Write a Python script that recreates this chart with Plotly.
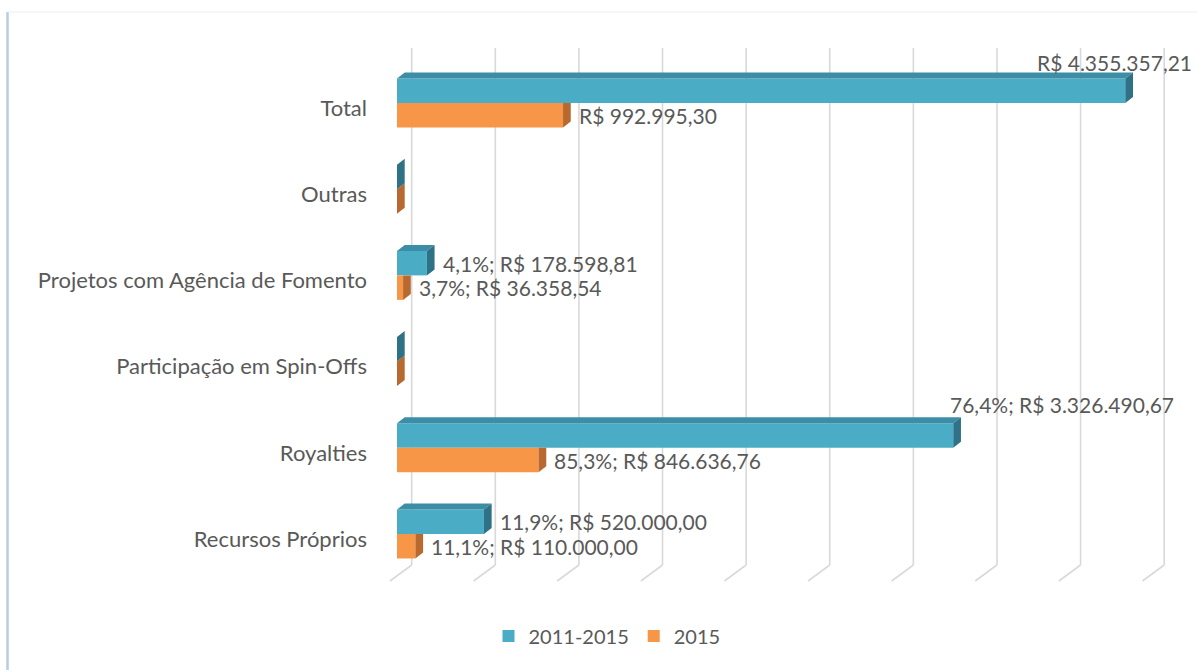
import plotly.graph_objects as go

# ---------------- data ----------------
categories = ["Recursos Próprios", "Royalties", "Participação em Spin-Offs",
              "Projetos com Agência de Fomento", "Outras", "Total"]
series_names = ["2011-2015", "2015"]
values_2011_2015 = [520000.00, 3326490.67, 0.0, 178598.81, 0.0, 4355357.21]
values_2015 = [110000.00, 846636.76, 0.0, 36358.54, 0.0, 992995.30]
grid_ticks = [0, 500000, 1000000, 1500000, 2000000, 2500000,
              3000000, 3500000, 4000000, 4500000]

# ---------------- style / geometry ----------------
W, H = 1197, 670
ML, MR, MT, MB = 380, 20, 38, 76
PX_PER_UNIT = 1.6722e-4          # pixels per R$
PX_PER_CAT = 86.2                # pixels per category
plot_w = W - ML - MR
plot_h = H - MT - MB
x0 = -17 / PX_PER_UNIT
xr = [x0, x0 + plot_w / PX_PER_UNIT]
yr = [-(594 - 534) / PX_PER_CAT, (534 - MT) / PX_PER_CAT]

TEAL, TEAL_TOP, TEAL_SIDE = "#4bacc6", "#3c8ea6", "#2f7286"
ORANGE, ORANGE_SIDE = "#f79646", "#b8692f"
TXT = "#595959"
FONT = "Lato"
BW = 0.284                        # bar thickness (category units)
DX = 7.7 / PX_PER_UNIT            # depth offset x (data units)
DY = 6.0 / PX_PER_CAT             # depth offset y


def brl(v):
    s = f"{v:,.2f}"
    return "R$ " + s.replace(",", "#").replace(".", ",").replace("#", ".")


def pct(v, tot):
    return f"{100 * v / tot:.1f}".replace(".", ",") + "%"


n = len(categories)
ypos = list(range(n))
tot_a = values_2011_2015[-1]
tot_b = values_2015[-1]

fig = go.Figure()
fig.add_trace(go.Bar(name=series_names[0], y=ypos, x=values_2011_2015, orientation="h",
                     offset=0, width=BW, marker=dict(color=TEAL, line=dict(width=0)),
                     hoverinfo="skip"))
fig.add_trace(go.Bar(name=series_names[1], y=ypos, x=values_2015, orientation="h",
                     offset=-BW, width=BW, marker=dict(color=ORANGE, line=dict(width=0)),
                     hoverinfo="skip"))

# 3D faces derived from the values
osx, osy = [], []
for i, (va, vb) in enumerate(zip(values_2011_2015, values_2015)):
    top_r = i + DY if va <= vb else i
    osx += [vb, vb, vb + DX, vb + DX, None]
    osy += [i - BW, i, top_r, i - BW + DY, None]
fig.add_trace(go.Scatter(x=osx, y=osy, fill="toself", fillcolor=ORANGE_SIDE, mode="lines",
                         line=dict(width=0), showlegend=False, hoverinfo="skip"))
ttx, tty, tsx, tsy = [], [], [], []
for i, va in enumerate(values_2011_2015):
    if va > 0:
        ttx += [0, va, va + DX, DX, None]
        tty += [i + BW, i + BW, i + BW + DY, i + BW + DY, None]
    tsx += [va, va, va + DX, va + DX, None]
    tsy += [i, i + BW, i + BW + DY, i + DY, None]
fig.add_trace(go.Scatter(x=ttx, y=tty, fill="toself", fillcolor=TEAL_TOP, mode="lines",
                         line=dict(width=0), showlegend=False, hoverinfo="skip"))
fig.add_trace(go.Scatter(x=tsx, y=tsy, fill="toself", fillcolor=TEAL_SIDE, mode="lines",
                         line=dict(width=0), showlegend=False, hoverinfo="skip"))

# gridlines (back wall + floor)
BACK = 14.7 / PX_PER_UNIT
FRONT = -7.0 / PX_PER_UNIT
y_top = (534 - 48) / PX_PER_CAT
y_floor_back = (534 - 565) / PX_PER_CAT
y_floor_front = (534 - 581) / PX_PER_CAT
GRID = dict(color="#d9d9d9", width=1.6)
shapes = []
for t in grid_ticks:
    shapes.append(dict(type="line", xref="x", yref="y", layer="below",
                       x0=t + BACK, x1=t + BACK, y0=y_floor_back, y1=y_top, line=GRID))
    shapes.append(dict(type="line", xref="x", yref="y", layer="below",
                       x0=t + BACK, x1=t + FRONT, y0=y_floor_back, y1=y_floor_front,
                       line=GRID))


# chart border (left and top)
def px_to_paper_x(px):
    return (px - ML) / plot_w


def px_to_paper_y(py):
    return (H - MB - py) / plot_h


shapes.append(dict(type="line", xref="paper", yref="paper",
                   x0=px_to_paper_x(7.5), x1=px_to_paper_x(7.5),
                   y0=px_to_paper_y(12), y1=px_to_paper_y(672),
                   line=dict(color="#b9cce2", width=2.5)))
shapes.append(dict(type="line", xref="paper", yref="paper",
                   x0=px_to_paper_x(7), x1=px_to_paper_x(1200),
                   y0=px_to_paper_y(12), y1=px_to_paper_y(12),
                   line=dict(color="#e9eef4", width=1)))

# data labels
label_font = dict(family=FONT, size=21, color=TXT)
annotations = []
for i, (va, vb) in enumerate(zip(values_2011_2015, values_2015)):
    is_total = i == n - 1
    if va > 0:
        txt_a = brl(va) if is_total else f"{pct(va, tot_a)}; {brl(va)}"
        if is_total:
            annotations.append(dict(x=va, y=i + BW / 2, text=txt_a, showarrow=False,
                                    xanchor="right", yanchor="middle", xshift=69,
                                    yshift=28, font=label_font))
        elif va > 2000000:
            annotations.append(dict(x=va, y=i + BW / 2, text=txt_a, showarrow=False,
                                    xanchor="right", yanchor="middle", xshift=223,
                                    yshift=31, font=label_font))
        else:
            annotations.append(dict(x=va + DX, y=i + BW / 2, text=txt_a, showarrow=False,
                                    xanchor="left", yanchor="middle", xshift=6,
                                    font=label_font))
    if vb > 0:
        txt_b = brl(vb) if is_total else f"{pct(vb, tot_b)}; {brl(vb)}"
        annotations.append(dict(x=vb + DX, y=i - BW / 2, text=txt_b, showarrow=False,
                                xanchor="left", yanchor="middle", xshift=6,
                                font=label_font))

fig.update_layout(
    width=W, height=H,
    margin=dict(l=ML, r=MR, t=MT, b=MB),
    paper_bgcolor="white", plot_bgcolor="white",
    barmode="overlay",
    font=dict(family=FONT, size=21, color=TXT),
    xaxis=dict(range=xr, showgrid=False, zeroline=False, showticklabels=False,
               showline=False, fixedrange=True),
    yaxis=dict(range=yr, tickvals=[i - 0.058 for i in ypos], ticktext=categories,
               showgrid=False, zeroline=False, showline=False, ticks="",
               ticklabelstandoff=12, tickfont=dict(family=FONT, size=22, color=TXT),
               fixedrange=True),
    legend=dict(orientation="h", x=px_to_paper_x(607), xanchor="center",
                y=px_to_paper_y(636), yanchor="middle",
                font=dict(family=FONT, size=20, color=TXT), itemwidth=30),
    shapes=shapes,
    annotations=annotations,
    showlegend=True,
)

fig.write_html("out.html", config={"displayModeBar": False},
               post_script="document.body.style.margin='0';document.body.style.padding='0';")
